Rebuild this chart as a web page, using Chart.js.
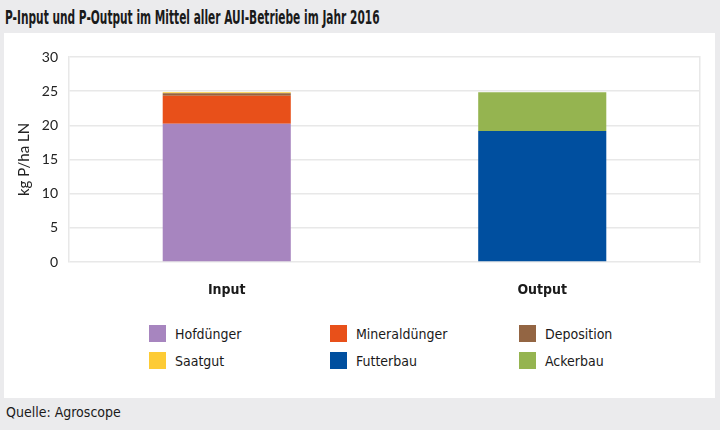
<!DOCTYPE html>
<html>
<head>
<meta charset="utf-8">
<script src="https://cdn.jsdelivr.net/npm/chart.js@4"></script>
<style>
  html, body { margin: 0; padding: 0; }
  body { width: 720px; height: 430px; background: #ebebed; position: relative; overflow: hidden;
         font-family: "DejaVu Sans Condensed", sans-serif; color: #1a1a1a; }
  #titel { position: absolute; left: 5px; top: 5px; font-size: 20px; font-weight: bold; white-space: nowrap;
           transform: scaleX(0.59); transform-origin: left top; }
  #panel { position: absolute; left: 4px; top: 33px; width: 711px; height: 365px; background: #fff; }
  #wrap { position: absolute; left: 0; top: 0; width: 711px; height: 270px; }
  #legende { position: absolute; left: 145px; top: 287px; display: grid;
             grid-template-columns: 181px 189px auto; grid-auto-rows: 27px; font-size: 14px; }
  #legende div { display: flex; align-items: center; }
  #legende span.box { width: 17px; height: 17px; margin-right: 9px; display: inline-block; }
  #quelle { position: absolute; left: 6px; top: 404px; font-size: 14px; white-space: nowrap; }
</style>
</head>
<body>
<div id="titel">P-Input und P-Output im Mittel aller AUI-Betriebe im Jahr 2016</div>
<div id="panel">
  <div id="wrap"><canvas id="grafik"></canvas></div>
  <div id="legende"></div>
</div>
<div id="quelle">Quelle: Agroscope</div>
<script>
// Kategorien und Werte (kg P/ha LN)
var kategorien = ['Input', 'Output'];
var hofduenger = [20.25, null];
var mineralduenger = [4.08, null];
var deposition = [0.38, null];
var saatgut = [0.14, null];
var futterbau = [null, 19.17];
var ackerbau = [null, 5.68];
var yTicks = [0, 5, 10, 15, 20, 25, 30];

var schmal = '"DejaVu Sans Condensed", sans-serif';

var daten = {
    labels: kategorien,
    datasets: [
        { label: 'Hofdünger', data: hofduenger, backgroundColor: '#a785bf' },
        { label: 'Mineraldünger', data: mineralduenger, backgroundColor: '#e8501a' },
        { label: 'Deposition', data: deposition, backgroundColor: '#936543' },
        { label: 'Saatgut', data: saatgut, backgroundColor: '#fdcb35' },
        { label: 'Futterbau', data: futterbau, backgroundColor: '#004f9f' },
        { label: 'Ackerbau', data: ackerbau, backgroundColor: '#95b450' }
    ]
};

var optionen = {
    responsive: true,
    maintainAspectRatio: false,
    animation: false,
    layout: { padding: { top: 24, right: 15, left: 0, bottom: 0 } },
    datasets: { bar: { barPercentage: 0.406, categoryPercentage: 1 } },
    plugins: { legend: { display: false }, tooltip: { enabled: false } },
    scales: {
        x: {
            stacked: true,
            grid: { display: false },
            border: { display: false },
            ticks: { color: '#1a1a1a', padding: 12, font: { family: schmal, size: 14, weight: 'bold' } },
            afterFit: function (s) { s.height = 41; }
        },
        y: {
            stacked: true,
            min: 0, max: 30,
            afterBuildTicks: function (s) { s.ticks = yTicks.map(function (v) { return { value: v }; }); },
            grid: { color: '#e8e8e8', lineWidth: 1.5, drawTicks: false },
            border: { color: '#e8e8e8', width: 1.5 },
            ticks: { color: '#222', padding: 11, font: { family: 'Lato', size: 14 } },
            title: { display: true, text: 'kg P/ha LN', color: '#222', padding: { top: 11, bottom: 4 },
                     font: { family: 'Lato', size: 15 } },
            afterFit: function (s) { s.width = 65; }
        },
        y2: {
            position: 'right',
            min: 0, max: 30,
            grid: { display: false },
            border: { color: '#e8e8e8', width: 1.5 },
            ticks: { display: false },
            afterFit: function (s) { s.width = 0; }
        }
    }
};

var grafik = new Chart(document.getElementById('grafik').getContext('2d'), {
    type: 'bar',
    data: daten,
    options: optionen
});

// Legende aus den Datensätzen bauen
var legende = document.getElementById('legende');
grafik.data.datasets.forEach(function (ds) {
    var eintrag = document.createElement('div');
    eintrag.innerHTML = '<span class="box" style="background:' + ds.backgroundColor + '"></span>' + ds.label;
    legende.appendChild(eintrag);
});
</script>
</body>
</html>
